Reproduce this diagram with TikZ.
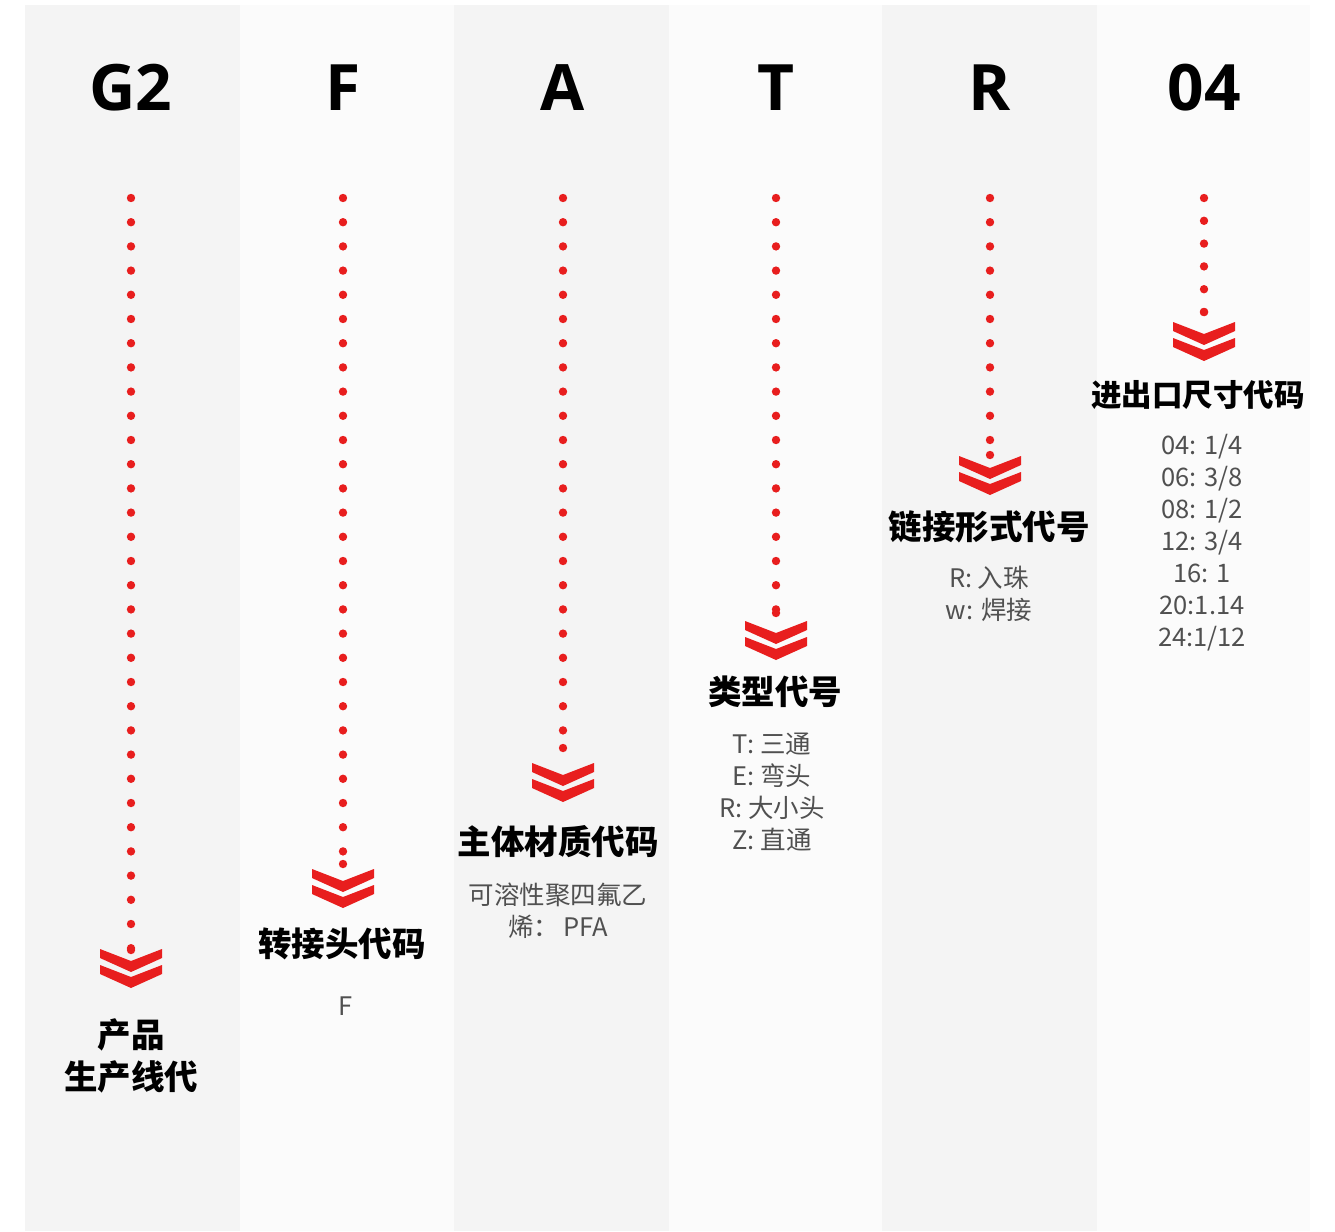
\documentclass[tikz,border=0pt]{standalone}
\usepackage{fontspec}
\newfontfamily\cjk{Noto Sans CJK SC}
\newfontfamily\headfont{Open Sans}
\definecolor{chevred}{RGB}{232,30,30}
\definecolor{colgray}{RGB}{244,244,244}
\definecolor{collight}{RGB}{251,251,251}
\definecolor{infogray}{RGB}{80,80,80}

\begin{document}
\begin{tikzpicture}[x=1pt,y=-1pt,
        head/.style = {font=\headfont\bfseries\fontsize{64}{64}\selectfont, inner sep=0pt},
        title/.style = {font=\cjk\bfseries\fontsize{33.5}{42}\selectfont, align=center, inner sep=0pt},
        info/.style = {font=\cjk\fontsize{25.5}{32}\selectfont, text=infogray, align=center, inner sep=0pt},
        dotline/.style = {draw=chevred, line width=8.4pt, line cap=round, dash pattern=on 0pt off #1},
        enddot/.style = {circle, fill=chevred, inner sep=0pt, minimum size=8.4pt},
        chev/.pic = {
            \fill[chevred] (-31,0) -- (0,12) -- (31,0) -- (31,9) -- (0,23) -- (-31,9) -- cycle;
            \fill[chevred] (-31,16) -- (0,28) -- (31,16) -- (31,25) -- (0,39) -- (-31,25) -- cycle;
        }]
        \useasboundingbox (0,0) rectangle (1335,1231);
        % column backgrounds
        \foreach \a/\b/\c in {25/240/colgray, 240/454/collight, 454/669/colgray,
                669/882/collight, 882/1097/colgray, 1097/1310/collight}
            \fill[\c] (\a,5) rectangle (\b,1231);

        % code letters
        \node[head] (h1) at (131,88) {G2};
        \node[head] (h2) at (343,88) {F};
        \node[head] (h3) at (563,88) {A};
        \node[head] (h4) at (776,88) {T};
        \node[head] (h5) at (990,88) {R};
        \node[head] (h6) at (1204,88) {04};

        % dotted leaders and chevrons
        \foreach \x/\e/\c/\s [count=\i] in {131/950/949/24.2pt, 343/864/869/24.2pt,
                563/748/763/24.2pt, 776/613/621/24.2pt, 990/455/456/24.2pt, 1204/312/322/22.8pt} {
            \coordinate (s\i) at (\x,198);
            \node[enddot] (e\i) at (\x,\e) {};
            \draw[dotline=\s] (s\i) -- (e\i.center);
            \pic at (\x,\c) {chev};
        }

        % titles
        \node[title] (t1) at (131,1056) {产品\\生产线代};
        \node[title] (t2) at (342,944) {转接头代码};
        \node[title] (t3) at (558,842) {主体材质代码};
        \node[title] (t4) at (775,692) {类型代号};
        \node[title] (t5) at (989,527) {链接形式代号};
        \node[title, font=\cjk\bfseries\fontsize{30.5}{40}\selectfont] (t6) at (1198,395) {进出口尺寸代码};

        % descriptions
        \node[info] (i2) at (346,1006) {F};
        \node[info] (i3) at (558,911) {可溶性聚四氟乙\\烯：\,PFA};
        \node[info] (i4) at (772,792) {T: 三通\\E: 弯头\\R: 大小头\\Z: 直通};
        \node[info] (i5) at (989,594) {R: 入珠\\w: 焊接};
        \node[info] (i6) at (1202,543) {04: 1/4\\06: 3/8\\08: 1/2\\12: 3/4\\16: 1\\20:1.14\\24:1/12};
\end{tikzpicture}
\end{document}
